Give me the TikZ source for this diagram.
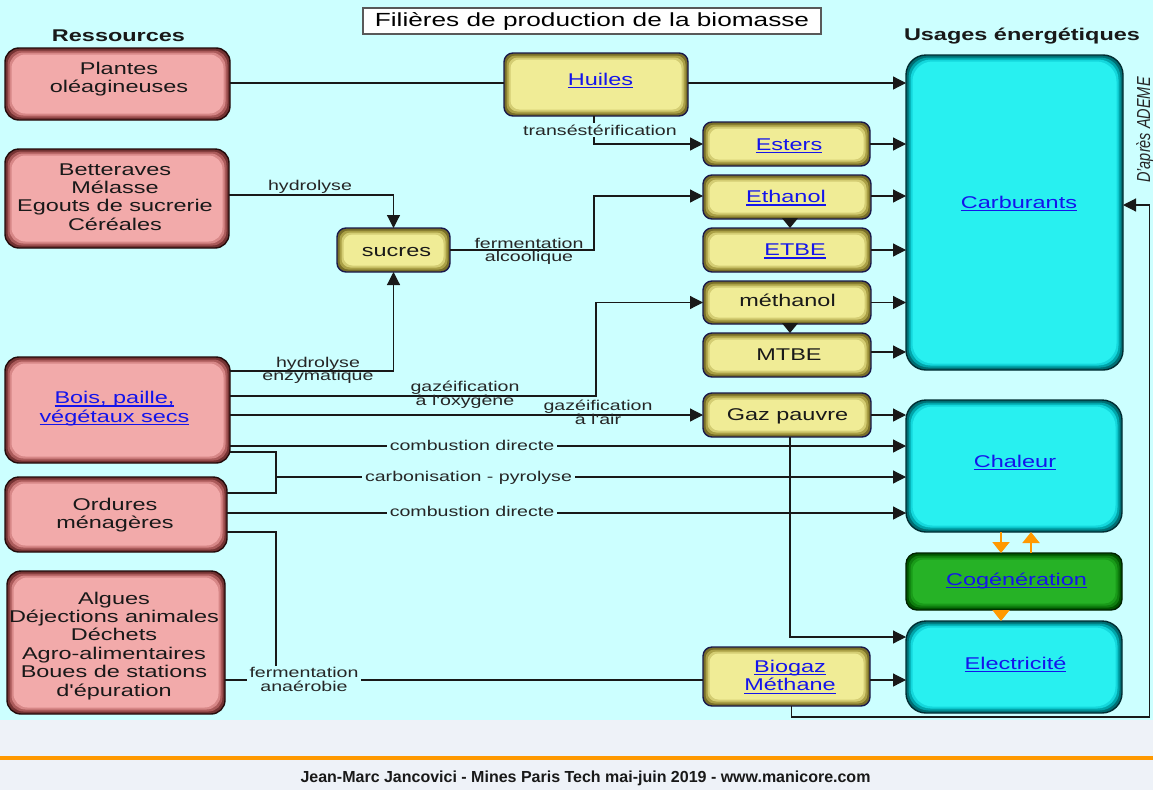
\documentclass[tikz,border=0pt]{standalone}
\usepackage{fontspec}
\setmainfont{Liberation Sans}
\newfontfamily\wf[FakeStretch=1.38]{Liberation Sans}
\usetikzlibrary{arrows.meta}
\definecolor{bgc}{RGB}{204,255,255}
\definecolor{footbg}{RGB}{238,242,248}
\definecolor{orng}{RGB}{255,153,0}
\definecolor{linkc}{RGB}{20,20,235}
\definecolor{pkedge}{RGB}{35,12,12}
\definecolor{pkr1}{RGB}{115,50,50}
\definecolor{pkr2}{RGB}{170,90,90}
\definecolor{pkr3}{RGB}{215,135,135}
\definecolor{pkfill}{RGB}{242,170,170}
\definecolor{ywedge}{RGB}{25,25,75}
\definecolor{ywr1}{RGB}{120,110,40}
\definecolor{ywr2}{RGB}{170,160,70}
\definecolor{ywr3}{RGB}{212,205,115}
\definecolor{ywfill}{RGB}{240,236,150}
\definecolor{cyedge}{RGB}{0,45,50}
\definecolor{cyr1}{RGB}{0,110,115}
\definecolor{cyr2}{RGB}{0,165,170}
\definecolor{cyr3}{RGB}{20,215,220}
\definecolor{cyfill}{RGB}{40,240,240}
\definecolor{gredge}{RGB}{0,35,0}
\definecolor{grr1}{RGB}{0,85,0}
\definecolor{grr2}{RGB}{15,125,15}
\definecolor{grr3}{RGB}{25,155,25}
\definecolor{grfill}{RGB}{38,178,38}
\newsavebox\lnkbox
\newcommand\lnk[1]{\textcolor{linkc}{\sbox\lnkbox{#1}\rlap{\rule[-3pt]{\wd\lnkbox}{1.2pt}}\usebox\lnkbox}}
\tikzset{
  bevel/.style n args={6}{rectangle, draw=#1, line width=1.4pt, fill=#2,
    rounded corners=#6, inner sep=0pt, outer sep=0pt,
    path picture={
      \fill[#3, rounded corners=#6] ([shift={(2.5pt,2.5pt)}]path picture bounding box.south west) rectangle ([shift={(-2.5pt,-2.5pt)}]path picture bounding box.north east);
      \fill[#4, rounded corners=#6] ([shift={(4.5pt,4.5pt)}]path picture bounding box.south west) rectangle ([shift={(-4.5pt,-4.5pt)}]path picture bounding box.north east);
      \fill[#5, rounded corners=#6] ([shift={(6.5pt,6.5pt)}]path picture bounding box.south west) rectangle ([shift={(-6.5pt,-6.5pt)}]path picture bounding box.north east);
    }},
  pinkbox/.style={bevel={pkedge}{pkr1}{pkr2}{pkr3}{pkfill}{14pt}},
  yellowbox/.style={bevel={ywedge}{ywr1}{ywr2}{ywr3}{ywfill}{9pt}},
  cyanbox/.style={bevel={cyedge}{cyr1}{cyr2}{cyr3}{cyfill}{20pt}},
  greenbox/.style={bevel={gredge}{grr1}{grr2}{grr3}{grfill}{11pt}},
  bt/.style={font=\wf\fontsize{17}{18.4}\selectfont, align=center, anchor=base, inner sep=0pt, text=black!90},
  lb/.style={font=\wf\fontsize{14.2}{13.6}\selectfont, align=center, anchor=base, inner sep=0pt, text=black!85},
  lbf/.style={lb, fill=bgc, inner xsep=3pt, inner ysep=1.5pt},
  hdr/.style={font=\wf\bfseries\fontsize{17}{18}\selectfont, anchor=base, inner sep=0pt, text=black!90},
  ln/.style={line width=1.2pt, draw=black!90},
  arr/.style={ln, -{Triangle[length=13pt,width=13pt]}},
  sarr/.style={ln, -{Triangle[length=10pt,width=16pt]}},
  oarr/.style={draw=orng, line width=2pt, -{Triangle[length=11pt,width=17pt]}},
}
\begin{document}
\begin{tikzpicture}[x=1pt,y=-1pt]
\useasboundingbox (0,0) rectangle (1153,790);
\fill[footbg] (0,0) rectangle (1153,790);
\fill[bgc] (0,0) rectangle (1153,720);
\fill[orng] (0,755.5) rectangle (1153,759.5);

% title and headers
\node[draw=black!65, line width=1.5pt, fill=white, minimum width=458pt, minimum height=26pt, inner sep=0pt,
  font=\wf\fontsize{19}{20}\selectfont] (title) at (592,21) {Filières de production de la biomasse};
\node[hdr] (res) at (118.5,41) {Ressources};
\node[hdr] (usa) at (1022,40.7) {Usages énergétiques};
\node[rotate=90, anchor=base west, inner sep=0pt, font=\itshape\fontsize{14.5}{16}\selectfont, text=black!85] (ademe) at (1150,183) {\scalebox{1}[1.3]{D'après ADEME}};

% resource boxes
\node[pinkbox, minimum width=225pt, minimum height=72pt] (plantes) at (117.5,84) {};
\node[pinkbox, minimum width=224pt, minimum height=99pt] (bett) at (117,198.5) {};
\node[pinkbox, minimum width=225pt, minimum height=106pt] (bois) at (117.5,410) {};
\node[pinkbox, minimum width=222pt, minimum height=75pt] (ordures) at (116,514.5) {};
\node[pinkbox, minimum width=218pt, minimum height=143pt] (algues) at (116,642.5) {};

% intermediate boxes
\node[yellowbox, minimum width=184pt, minimum height=63pt] (huiles) at (596,84.5) {};
\node[yellowbox, minimum width=113pt, minimum height=44pt] (sucres) at (393.5,250) {};
\node[yellowbox, minimum width=167pt, minimum height=44pt] (esters) at (786.5,144) {};
\node[yellowbox, minimum width=168pt, minimum height=44pt] (ethanol) at (787,197) {};
\node[yellowbox, minimum width=168pt, minimum height=44pt] (etbe) at (787,250) {};
\node[yellowbox, minimum width=168pt, minimum height=43pt] (methanol) at (787,302.5) {};
\node[yellowbox, minimum width=168pt, minimum height=44pt] (mtbe) at (787,355) {};
\node[yellowbox, minimum width=168pt, minimum height=44pt] (gaz) at (787,415) {};
\node[yellowbox, minimum width=167pt, minimum height=59pt] (biogaz) at (786.5,676.5) {};

% usage boxes
\node[cyanbox, minimum width=217pt, minimum height=315pt] (carb) at (1014.5,212.5) {};
\node[cyanbox, minimum width=216pt, minimum height=132pt] (chaleur) at (1014,466) {};
\node[greenbox, minimum width=216pt, minimum height=57pt] (cogen) at (1014,581.5) {};
\node[cyanbox, minimum width=216pt, minimum height=92pt] (elec) at (1014,667) {};

% connectors
\draw[ln] ([yshift=1pt]plantes.east) -- ([yshift=1pt]plantes.east -| huiles.west);
\draw[arr] ([yshift=1.5pt]huiles.east) -- ([yshift=1.5pt]huiles.east -| carb.west);
\draw[arr] ([xshift=-2pt]huiles.south) |- (esters.west);
\draw[arr] (esters.east) -- (esters.east -| carb.west);
\draw[arr] ([yshift=3.5pt]bett.east) -| (sucres.north);
\draw[arr] ([yshift=39pt]bois.east) -| (sucres.south);
\draw[arr] (sucres.east) -- ++(144,0) |- ([yshift=1pt]ethanol.west);
\draw[arr] ([yshift=1pt]ethanol.east) -- ([yshift=1pt]ethanol.east -| carb.west);
\draw[sarr] ([xshift=3pt]ethanol.south) -- ([xshift=3pt]etbe.north);
\draw[arr] (etbe.east) -- (etbe.east -| carb.west);
\draw[arr] ([yshift=14pt]bois.east) -- ++(366,0) |- (methanol.west);
\draw[arr] (methanol.east) -- (methanol.east -| carb.west);
\draw[sarr] ([xshift=3pt]methanol.south) -- ([xshift=3pt]mtbe.north);
\draw[arr] ([yshift=3pt]mtbe.east) -- ([yshift=3pt]mtbe.east -| carb.west);
\draw[arr] ([yshift=-5pt]bois.east) -- ([yshift=-5pt]bois.east -| gaz.west);
\draw[arr] (gaz.east) -- (gaz.east -| chaleur.west);
\draw[arr] ([xshift=3pt]gaz.south) |- ([yshift=30pt]elec.west);
\draw[arr] ([yshift=-36pt]bois.east) -- ([yshift=-36pt]bois.east -| chaleur.west);
\draw[ln] ([yshift=-42pt]bois.east) -- ++(46,0) |- ([yshift=21.5pt]ordures.east);
\coordinate (cp) at (276,477);
\draw[arr] (cp) -- (cp -| chaleur.west);
\draw[arr] ([yshift=1.5pt]ordures.east) -- ([yshift=1.5pt]ordures.east -| chaleur.west);
\draw[ln] ([yshift=-17.5pt]ordures.east) -- ++(49,0) -- ++(0,148);
\draw[ln] ([yshift=-37.5pt]algues.east) -- ([yshift=-37.5pt]algues.east -| biogaz.west);
\draw[arr] ([yshift=-3.5pt]biogaz.east) -- ([yshift=-3.5pt]biogaz.east -| elec.west);
\draw[arr] ([xshift=5pt]biogaz.south) -- ++(0,11) -- ++(358,0) |- ([yshift=7.5pt]carb.east);
\draw[oarr] ([xshift=-13pt]chaleur.south) -- ([xshift=-13pt]cogen.north);
\draw[oarr] ([xshift=17pt]cogen.north) -- ([xshift=17pt]chaleur.south);
\draw[oarr] ([xshift=-13pt]cogen.south) -- ([xshift=-13pt]elec.north);

% connector labels (multi-line: anchor at last line baseline)
\node[lbf] (l-trans) at (600,135) {transéstérification};
\node[lb] (l-hyd) at (310,190.5) {hydrolyse};
\node[lb] (l-hydenz) at (318,380.7) {hydrolyse\\enzymatique};
\node[lb] (l-ferm) at (529,261.7) {fermentation\\alcoolique};
\node[lb] (l-gazox) at (465,405.3) {gazéification\\à l'oxygène};
\node[lb] (l-gazair) at (598,424.5) {gazéification\\à l'air};
\node[lbf] (l-comb1) at (472,450) {combustion directe};
\node[lbf] (l-carbo) at (468.5,481.7) {carbonisation - pyrolyse};
\node[lbf] (l-comb2) at (472,516) {combustion directe};
\node[lbf] (l-anae) at (304,691.2) {fermentation\\anaérobie};

% box texts
\node[bt] (plantes-t) at (119,92.6) {Plantes\\oléagineuses};
\node[bt] (bett-t) at (115,230.2) {Betteraves\\Mélasse\\Egouts de sucrerie\\Céréales};
\node[bt] (bois-t) at (114.5,422) {\lnk{Bois, paille,}\\\lnk{végétaux secs}};
\node[bt] (ordures-t) at (115,528.4) {Ordures\\ménagères};
\node[bt] (algues-t) at (114,696) {Algues\\Déjections animales\\Déchets\\Agro-alimentaires\\Boues de stations\\d'épuration};
\node[bt] (huiles-t) at (600.5,85) {\lnk{Huiles}};
\node[bt] (sucres-t) at (396.5,256.5) {sucres};
\node[bt] (esters-t) at (789,150) {\lnk{Esters}};
\node[bt] (ethanol-t) at (786,202.5) {\lnk{Ethanol}};
\node[bt] (etbe-t) at (795,255.5) {\lnk{ETBE}};
\node[bt] (methanol-t) at (787.5,306.5) {méthanol};
\node[bt] (mtbe-t) at (789,360) {MTBE};
\node[bt] (gaz-t) at (787.5,420) {Gaz pauvre};
\node[bt] (biogaz-t) at (790,690.7) {\lnk{Biogaz}\\\lnk{Méthane}};
\node[bt] (carb-t) at (1019,208) {\lnk{Carburants}};
\node[bt] (chaleur-t) at (1015,467) {\lnk{Chaleur}};
\node[bt] (cogen-t) at (1016.5,585) {\lnk{Cogénération}};
\node[bt] (elec-t) at (1015.5,669) {\lnk{Electricité}};

% footer
\node[anchor=base, inner sep=0pt, font=\bfseries\fontsize{16}{18}\selectfont, text=black!90] (foot) at (585.5,782.7) {Jean-Marc Jancovici - Mines Paris Tech mai-juin 2019 - www.manicore.com};
\end{tikzpicture}
\end{document}
